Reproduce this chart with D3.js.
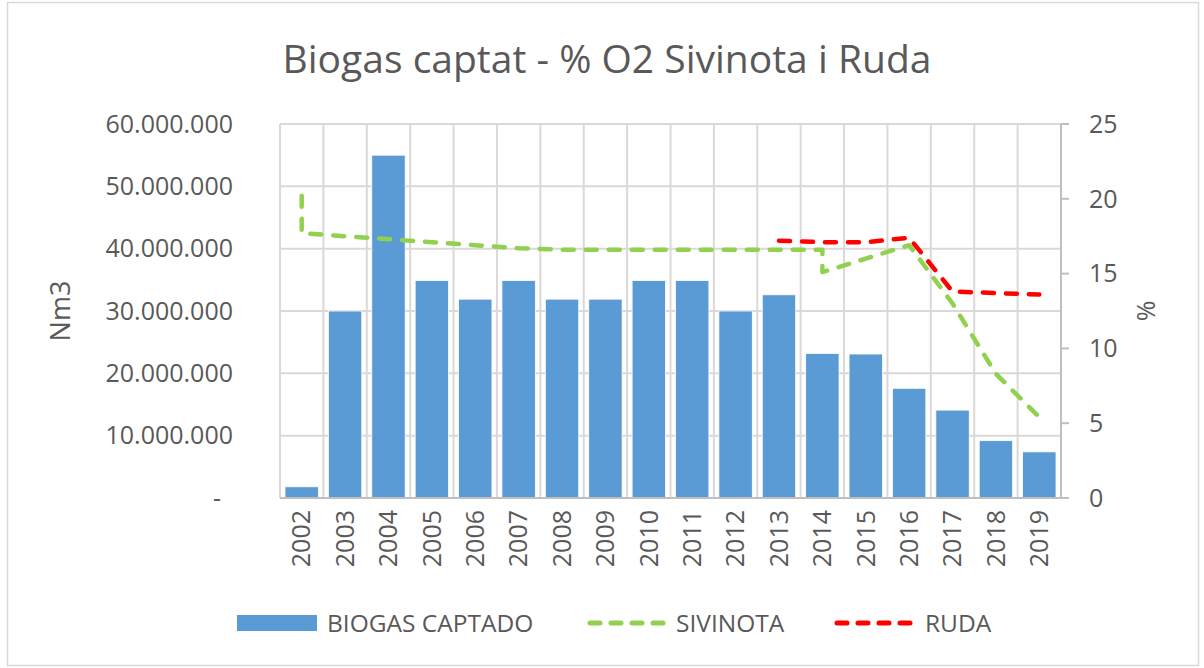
<!DOCTYPE html>
<html>
<head>
<meta charset="utf-8">
<script src="https://cdn.jsdelivr.net/npm/d3@7"></script>
<style>
  body { margin: 0; background: #fff; }
  text { font-family: "Open Sans", "Noto Sans", sans-serif; fill: #595959; }
</style>
</head>
<body>
<div id="canvas"></div>
<script>
var years = ['2002','2003','2004','2005','2006','2007','2008','2009','2010',
             '2011','2012','2013','2014','2015','2016','2017','2018','2019'];
var biogas = [1800000, 30000000, 55000000, 34900000, 31900000, 34900000, 31900000,
              31900000, 34900000, 34900000, 30000000, 32600000, 23200000, 23100000,
              17600000, 14100000, 9200000, 7400000];
// Sivinota has two readings in 2002 and in 2014 (vertical drops)
var sivinota = [['2002',20.2],['2002',17.7],['2003',17.5],['2004',17.3],['2005',17.1],
                ['2006',16.9],['2007',16.7],['2008',16.6],['2009',16.6],['2010',16.6],
                ['2011',16.6],['2012',16.6],['2013',16.6],['2014',16.6],['2014',15.1],
                ['2015',16.0],['2016',16.9],['2017',13.0],['2018',8.3],['2019',5.4]];
var ruda = [['2013',17.2],['2014',17.1],['2015',17.1],['2016',17.4],
            ['2017',13.8],['2018',13.7],['2019',13.6]];
var leftTicks = [0,10000000,20000000,30000000,40000000,50000000,60000000];
var rightTicks = [0,5,10,15,20,25];
var legendNames = ['BIOGAS CAPTADO','SIVINOTA','RUDA'];

var W = 1204, H = 668;
var m = {t:124, r:144, b:170, l:280},
    w = 1061 - m.l,
    h = 498 - m.t;

var svg = d3.select('#canvas').append('svg')
    .attr('width', W).attr('height', H);

svg.append('rect')
    .attr('x', 7.5).attr('y', 2.5).attr('width', 1191).attr('height', 663)
    .attr('fill', '#fff').attr('stroke', '#d9d9d9').attr('stroke-width', 1.5);

svg.append('text')
    .attr('x', 607).attr('y', 73)
    .attr('text-anchor', 'middle')
    .style('font-size', '39px')
    .text('Biogas captat - % O2 Sivinota i Ruda');

var plot = svg.append('g').attr('transform','translate('+m.l+','+m.t+')');

var x = d3.scaleBand().domain(years).range([0, w]).paddingInner(0.23).paddingOuter(0.115);
var step = x.step();
var cx = function(y){ return x(y) + x.bandwidth()/2; };
var yL = d3.scaleLinear().domain([0, 60000000]).range([h, 0]);
var yR = d3.scaleLinear().domain([0, 25]).range([h, 0]);

// gridlines
plot.selectAll('.hgrid').data(leftTicks.slice(1))
    .enter().append('line').attr('class','hgrid')
    .attr('x1', 0).attr('x2', w)
    .attr('y1', function(d){ return yL(d); }).attr('y2', function(d){ return yL(d); })
    .attr('stroke', '#d9d9d9').attr('stroke-width', 2);
plot.selectAll('.vgrid').data(years.concat(['end']))
    .enter().append('line').attr('class','vgrid')
    .attr('x1', function(d,i){ return i*step; }).attr('x2', function(d,i){ return i*step; })
    .attr('y1', 0).attr('y2', h)
    .attr('stroke', '#d9d9d9').attr('stroke-width', 2);

// bars
plot.selectAll('.bar').data(biogas)
    .enter().append('rect').attr('class','bar')
    .attr('x', function(d,i){ return x(years[i]); })
    .attr('width', x.bandwidth())
    .attr('y', function(d){ return yL(d); })
    .attr('height', function(d){ return h - yL(d); })
    .attr('fill', '#5b9bd5').attr('stroke', '#fff').attr('stroke-width', 0.8);

// axes lines
plot.append('line').attr('x1', 0).attr('x2', w).attr('y1', h).attr('y2', h)
    .attr('stroke', '#bfbfbf').attr('stroke-width', 2);
plot.append('line').attr('x1', w).attr('x2', w).attr('y1', 0).attr('y2', h)
    .attr('stroke', '#bfbfbf').attr('stroke-width', 2);
plot.selectAll('.rtick').data(rightTicks)
    .enter().append('line').attr('class','rtick')
    .attr('x1', w).attr('x2', w + 8)
    .attr('y1', function(d){ return yR(d); }).attr('y2', function(d){ return yR(d); })
    .attr('stroke', '#bfbfbf').attr('stroke-width', 2);

// left tick labels
var fmt = function(d){ return d === 0 ? '-' : d3.format(',')(d).replace(/,/g, '.'); };
plot.selectAll('.lt').data(leftTicks)
    .enter().append('text').attr('class','lt')
    .attr('x', function(d){ return d === 0 ? -59 : -47; })
    .attr('y', function(d){ return yL(d); })
    .attr('dy', '0.35em')
    .attr('text-anchor', 'end')
    .style('font-size', '25px')
    .text(fmt);

// right tick labels
plot.selectAll('.rt').data(rightTicks)
    .enter().append('text').attr('class','rt')
    .attr('x', w + 28)
    .attr('y', function(d){ return yR(d); })
    .attr('dy', '0.35em')
    .style('font-size', '25px')
    .text(function(d){ return d; });

// year labels
plot.selectAll('.yr').data(years)
    .enter().append('text').attr('class','yr')
    .attr('transform', function(d){ return 'translate('+cx(d)+','+(h+12)+') rotate(-90)'; })
    .attr('dy', '0.35em')
    .attr('text-anchor', 'end')
    .style('font-size', '25px')
    .text(function(d){ return d; });

// axis titles
svg.append('text')
    .attr('transform', 'translate(70,311) rotate(-90)')
    .attr('text-anchor', 'middle')
    .style('font-size', '27px')
    .text('Nm3');
svg.append('text')
    .attr('transform', 'translate(1146,311) rotate(-90)')
    .attr('text-anchor', 'middle')
    .attr('dy', '0.35em')
    .style('font-size', '25px')
    .text('%');

// lines
var line = d3.line()
    .x(function(d){ return cx(d[0]); })
    .y(function(d){ return yR(d[1]); });

plot.append('path').datum(sivinota)
    .attr('d', line)
    .attr('fill', 'none').attr('stroke', '#92d050').attr('stroke-width', 4.5)
    .attr('stroke-dasharray', '11,12').attr('stroke-linecap', 'round')
    .attr('stroke-linejoin', 'round');
plot.append('path').datum(ruda)
    .attr('d', line)
    .attr('fill', 'none').attr('stroke', '#ff0000').attr('stroke-width', 4.5)
    .attr('stroke-dasharray', '11,12').attr('stroke-linecap', 'round')
    .attr('stroke-linejoin', 'round');

// legend
var lg = svg.append('g').attr('transform', 'translate(0,623)');
lg.append('rect').attr('x', 237).attr('y', -8).attr('width', 80).attr('height', 16)
    .attr('fill', '#5b9bd5');
lg.append('text').attr('x', 327).attr('y', 0).attr('dy', '0.35em')
    .style('font-size', '24.5px').text(legendNames[0]);
lg.append('line').attr('x1', 590).attr('x2', 665).attr('y1', 0).attr('y2', 0)
    .attr('stroke', '#92d050').attr('stroke-width', 5)
    .attr('stroke-dasharray', '10,11').attr('stroke-linecap', 'round');
lg.append('text').attr('x', 676).attr('y', 0).attr('dy', '0.35em')
    .style('font-size', '24.5px').text(legendNames[1]);
lg.append('line').attr('x1', 837).attr('x2', 915).attr('y1', 0).attr('y2', 0)
    .attr('stroke', '#ff0000').attr('stroke-width', 5)
    .attr('stroke-dasharray', '10,11').attr('stroke-linecap', 'round');
lg.append('text').attr('x', 925).attr('y', 0).attr('dy', '0.35em')
    .style('font-size', '24.5px').text(legendNames[2]);
</script>
</body>
</html>
